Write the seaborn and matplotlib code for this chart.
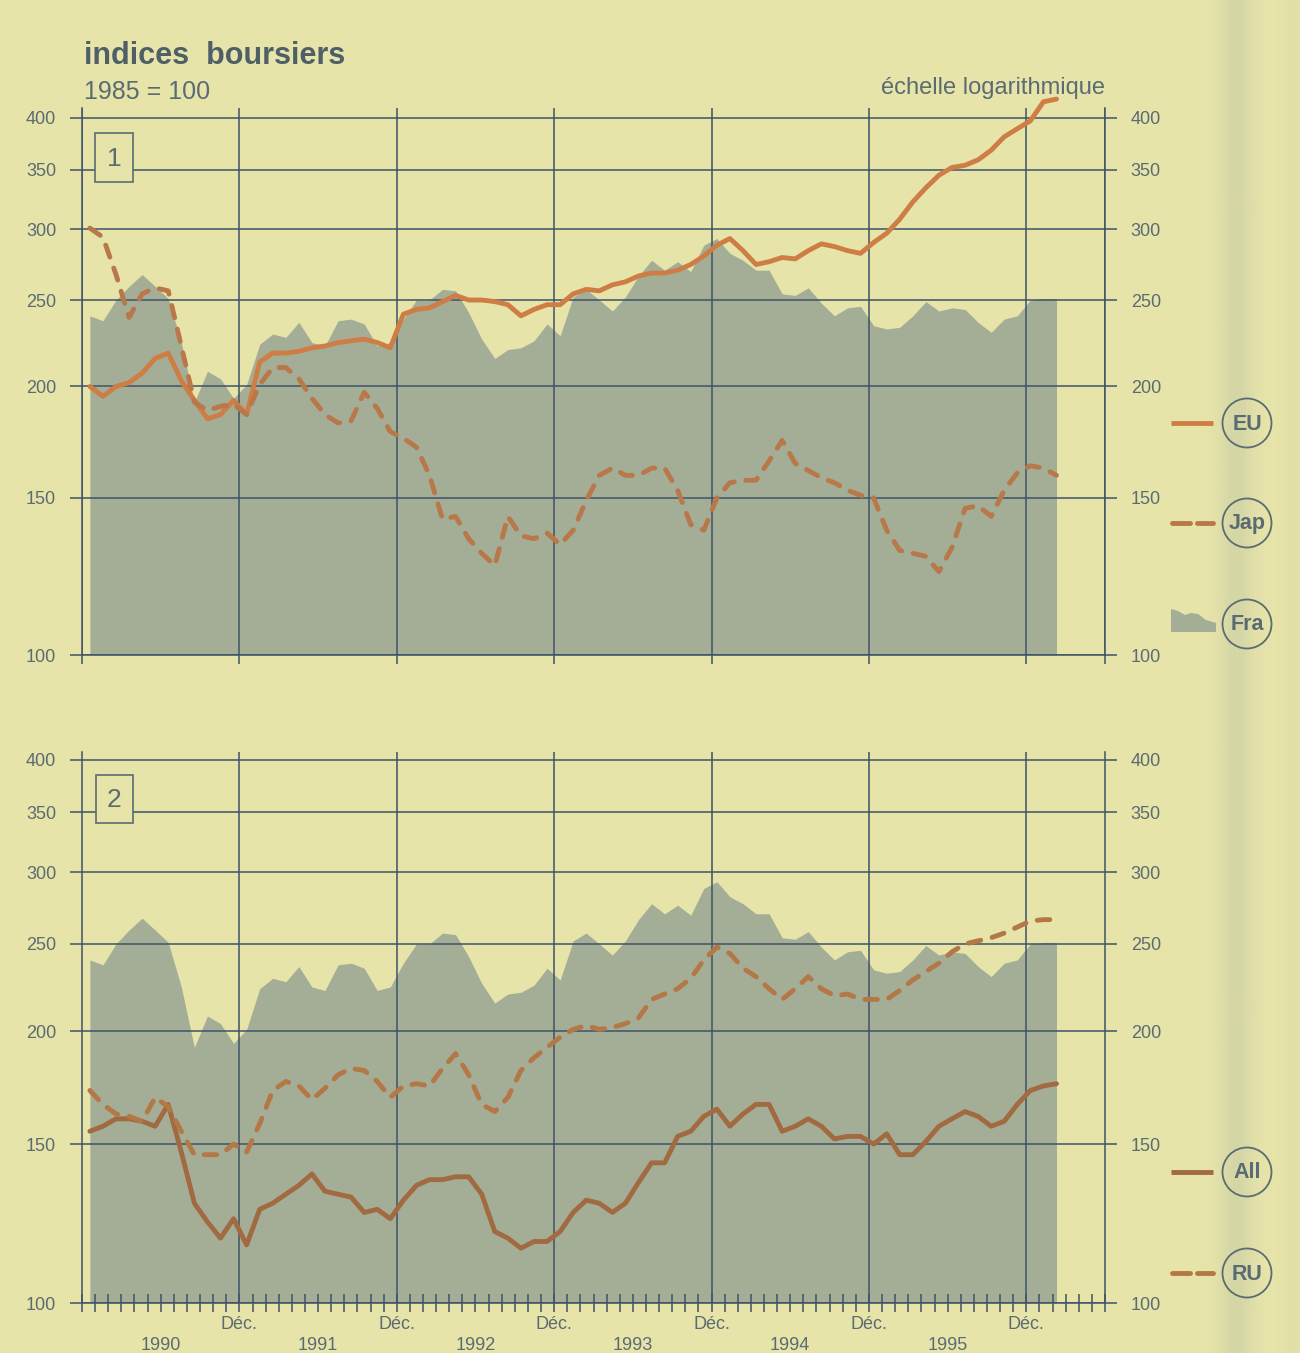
import numpy as np
import pandas as pd
import matplotlib
matplotlib.use("Agg")
import matplotlib.pyplot as plt
import matplotlib.transforms as mtransforms
from matplotlib.ticker import FixedLocator, FixedFormatter, NullLocator
from matplotlib.patches import Circle, Rectangle, Polygon
import seaborn as sns

# Indices boursiers (1985 = 100), moyennes mensuelles janv. 1990 - févr. 1996
fra = [240, 237, 250, 259, 267, 259, 251, 224, 192, 208, 204, 194, 201, 223, 229, 227,
       236, 224, 222, 237, 238, 235, 222, 224, 238, 250, 250, 257, 256, 242, 226, 215,
       220, 221, 225, 235, 228, 252, 257, 250, 243, 252, 266, 277, 270, 276, 269, 288,
       293, 282, 277, 270, 270, 254, 253, 258, 248, 240, 245, 246, 234, 232, 233, 240,
       249, 243, 245, 244, 236, 230, 238, 240, 250, 251, 251]
eu = [200, 195, 200, 202, 207, 215, 218, 203, 193, 184, 186, 193, 186, 213, 218, 218,
      219, 221, 222, 224, 225, 226, 224, 221, 241, 244, 245, 249, 253, 250, 250, 249,
      247, 240, 244, 247, 247, 254, 257, 256, 260, 262, 266, 268, 268, 270, 274, 280,
      288, 293, 284, 274, 276, 279, 278, 284, 289, 287, 284, 282, 290, 297, 308, 322,
      334, 345, 352, 354, 359, 368, 381, 389, 397, 417, 420]
jap = [301, 294, 267, 239, 254, 258, 256, 222, 192, 188, 190, 191, 186, 201, 210, 210,
       204, 194, 186, 182, 183, 197, 189, 178, 175, 171, 159, 142, 143, 135, 130, 126,
       143, 136, 135, 137, 133, 138, 149, 159, 162, 159, 159, 162, 162, 153, 140, 138,
       150, 156, 157, 157, 165, 174, 164, 161, 158, 156, 153, 151, 150, 138, 131, 130,
       129, 124, 132, 146, 147, 143, 153, 160, 163, 162, 159]
all_ = [155, 157, 160, 160, 159, 157, 166, 147, 129, 123, 118, 124, 116, 127, 129, 132,
        135, 139, 133, 132, 131, 126, 127, 124, 130, 135, 137, 137, 138, 138, 132, 120,
        118, 115, 117, 117, 120, 126, 130, 129, 126, 129, 136, 143, 143, 153, 155, 161,
        164, 157, 162, 166, 166, 155, 157, 160, 157, 152, 153, 153, 150, 154, 146, 146,
        151, 157, 160, 163, 161, 157, 159, 166, 172, 174, 175]
ru = [172, 166, 162, 161, 159, 169, 165, 155, 146, 146, 146, 150, 147, 158, 172, 176,
      174, 168, 173, 179, 182, 181, 176, 169, 174, 175, 174, 182, 189, 179, 166, 163,
      169, 181, 187, 192, 197, 201, 203, 201, 202, 204, 207, 217, 220, 223, 229, 240,
      248, 244, 235, 230, 223, 217, 223, 230, 223, 219, 220, 217, 217, 217, 222, 228,
      233, 238, 245, 250, 252, 254, 257, 261, 265, 266, 266]

ticks_y = [100, 150, 200, 250, 300, 350, 400]
annees = ["1990", "1991", "1992", "1993", "1994", "1995"]

# couleurs
fond = "#E7E4AA"
c_fra = "#A4AE97"
c_grille = "#3E5367"
c_texte = "#5B6B72"
c_eu = "#CE7E45"
c_jap = "#B8784A"
c_all = "#A26A40"
c_ru = "#B47846"

sns.set_theme(style="white")
plt.rcParams["font.family"] = ["Liberation Sans", "DejaVu Sans"]

n = len(fra)
mois = np.linspace(0.6, 74.3, n)  # mois depuis déc. 1989

fig = plt.figure(figsize=(13, 13.53), dpi=100, facecolor=fond)
ax_haut = fig.add_axes([82 / 1300, 1 - 655 / 1353, 1023 / 1300, 547 / 1353])
ax_bas = fig.add_axes([82 / 1300, 1 - 1303 / 1353, 1023 / 1300, 551 / 1353])


def dessine(ax, series, couleurs, styles, ytop):
    ax.set_facecolor(fond)
    ax.fill_between(mois, fra, 100, color=c_fra, lw=0, zorder=1)
    noms = list(series.keys())
    df = pd.DataFrame({
        "mois": np.tile(mois, len(noms)),
        "indice": np.concatenate([series[k] for k in noms]),
        "pays": np.repeat(noms, n),
    })
    sns.lineplot(data=df, x="mois", y="indice", hue="pays", style="pays",
                 palette=couleurs, dashes=styles, linewidth=3.5, legend=False,
                 estimator=None, sort=False, ax=ax, zorder=4, clip_on=False,
                 dash_capstyle="round", solid_capstyle="round", solid_joinstyle="round")
    ax.set_yscale("log")
    ax.set_ylim(100, ytop)
    ax.set_xlim(0, 78)
    ax.yaxis.set_major_locator(FixedLocator(ticks_y))
    ax.yaxis.set_major_formatter(FixedFormatter([str(t) for t in ticks_y]))
    ax.yaxis.set_minor_locator(NullLocator())
    ax.set_xlabel("")
    ax.set_ylabel("")
    ax.set_axisbelow(False)
    ax.grid(True, which="major", color=c_grille, lw=1.1)
    for s in ["left", "right", "bottom"]:
        ax.spines[s].set_color(c_grille)
        ax.spines[s].set_linewidth(1.1)
    ax.spines["top"].set_visible(False)
    ax.tick_params(axis="y", which="major", direction="out", length=8.6, width=1.1,
                   color=c_grille, left=True, right=True, labelleft=True, labelright=True,
                   labelsize=13, labelcolor=c_texte, pad=10)


dessine(ax_haut, {"EU": eu, "Jap": jap}, {"EU": c_eu, "Jap": c_jap},
        {"EU": "", "Jap": (2.6, 2.4)}, 410.4)
dessine(ax_bas, {"All": all_, "RU": ru}, {"All": c_all, "RU": c_ru},
        {"All": "", "RU": (2.6, 2.4)}, 408)

# axe des x : haut, seulement les décembres
ax_haut.set_xticks(list(range(0, 73, 12)) + [78])
ax_haut.tick_params(axis="x", which="major", direction="out", length=6.5, width=1.1,
                    color=c_grille, bottom=True, labelbottom=False)

# axe des x : bas, graduation mensuelle
ax_bas.set_xticks(list(range(12, 73, 12)))
ax_bas.set_xticklabels(["Déc."] * 6)
ax_bas.set_xticks(range(0, 79), minor=True)
ax_bas.tick_params(axis="x", which="both", direction="inout", length=13, width=1.1,
                   color=c_grille, bottom=True, labelsize=13, labelcolor=c_texte, pad=3)
trans = mtransforms.blended_transform_factory(ax_bas.transData, ax_bas.transAxes)
for i, an in enumerate(annees):
    ax_bas.text(6 + 12 * i, -0.077, an, transform=trans, ha="center", va="center",
                fontsize=13, color=c_texte)

# titres
fig.text(84 / 1300, 1 - 64 / 1353, "indices  boursiers", fontsize=22, fontweight="bold",
         color="#4E5F68", va="baseline")
fig.text(84 / 1300, 1 - 99 / 1353, "1985 = 100", fontsize=18, color=c_texte, va="baseline")
fig.text(1105 / 1300, 1 - 94 / 1353, "échelle logarithmique", fontsize=17, color=c_texte,
         ha="right", va="baseline")

# calque en pixels pour les encadrés et la légende
ov = fig.add_axes([0, 0, 1, 1], zorder=10)
ov.patch.set_visible(False)
ov.axis("off")

# ombre du pli de la page
xs = np.arange(1195, 1300)
alpha = 0.26 * np.exp(-((xs - 1236) / 17.0) ** 2) + 0.08 * np.exp(-((xs - 1292) / 9.0) ** 2)
bande = np.zeros((1, len(xs), 4))
bande[..., 0] = 160 / 255
bande[..., 1] = 175 / 255
bande[..., 2] = 155 / 255
bande[..., 3] = alpha
ov.imshow(bande, extent=(1195, 1300, 1353, 0), aspect="auto", zorder=0,
          interpolation="bilinear")
ov.set_xlim(0, 1300)
ov.set_ylim(1353, 0)

for (x0, y0, w, h), lab in [((95, 133, 38, 49), "1"), ((96, 775, 37, 48), "2")]:
    ov.add_patch(Rectangle((x0, y0), w, h, facecolor=fond, edgecolor=c_texte, lw=1.2, zorder=5))
    ov.text(x0 + w / 2, y0 + h / 2 + 1, lab, ha="center", va="center", fontsize=19,
            color=c_texte, zorder=6)

entrees = [("EU", 423, c_eu, "-"), ("Jap", 523, c_jap, "--"), ("Fra", 624, None, None),
           ("All", 1172, c_all, "-"), ("RU", 1273, c_ru, "--")]
for lab, y, c, ls in entrees:
    if c is None:
        px = [1171, 1171, 1178, 1185, 1191, 1198, 1206, 1216, 1216]
        py = [632, 609, 611, 615, 613, 614, 620, 623, 632]
        ov.add_patch(Polygon(list(zip(px, py)), closed=True, facecolor=c_fra, lw=0, zorder=5))
    elif ls == "-":
        ov.plot([1171, 1213], [y, y], color=c, lw=3.5, solid_capstyle="butt", zorder=5)
    else:
        ov.plot([1172, 1190], [y, y], color=c, lw=3.5, solid_capstyle="round", zorder=5)
        ov.plot([1197, 1213], [y, y], color=c, lw=3.5, solid_capstyle="round", zorder=5)
    ov.add_patch(Circle((1247, y), 24.5, facecolor="none", edgecolor=c_texte, lw=1.3, zorder=5))
    ov.text(1247, y + 1, lab, ha="center", va="center", fontsize=15.5, fontweight="bold",
            color=c_texte, zorder=6)

fig.savefig("out.png", dpi=100, facecolor=fond)
